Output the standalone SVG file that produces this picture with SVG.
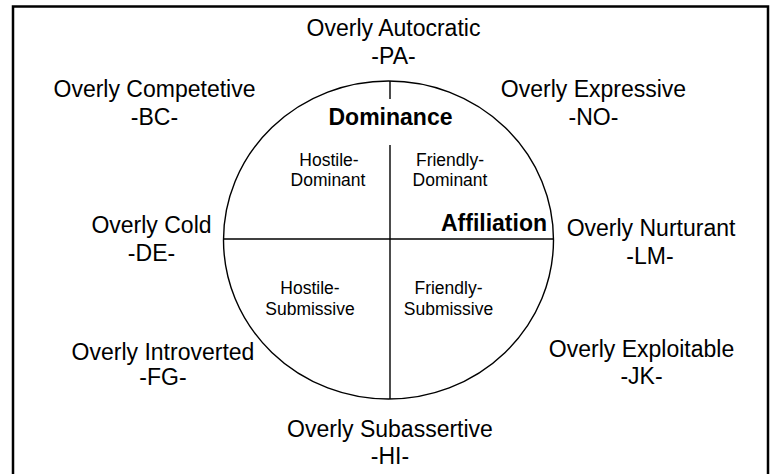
<svg xmlns="http://www.w3.org/2000/svg" width="770" height="474" viewBox="0 0 770 474">
<style>
text{font-family:"Liberation Sans",Arial,sans-serif;fill:#000;text-anchor:middle}
.o{font-size:23px}
.s{font-size:17.5px}
.b{font-size:23px;font-weight:bold}
.ln{stroke:#000;stroke-width:1.4;fill:none}
</style>
<rect x="0" y="0" width="770" height="474" fill="#fff"/>
<rect x="13" y="6.5" width="755" height="480" fill="none" stroke="#000" stroke-width="2.5"/>
<g id="connectors">
<ellipse class="ln" cx="388.5" cy="240" rx="165" ry="159"/>
<line class="ln" x1="390" y1="81" x2="390" y2="399"/>
<line class="ln" x1="223.5" y1="239" x2="553.5" y2="239"/>
</g>
<g id="dominance"><rect x="328" y="99" width="125" height="46" fill="#fff"/><text class="b" x="390.5" y="125">Dominance</text></g>
<g id="affiliation"><text class="b" x="494" y="231">Affiliation</text></g>
<g id="hd"><text class="s" x="329" y="166">Hostile-</text><text class="s" x="328" y="186">Dominant</text></g>
<g id="fd"><text class="s" x="450" y="166">Friendly-</text><text class="s" x="450" y="186">Dominant</text></g>
<g id="hs"><text class="s" x="310" y="294">Hostile-</text><text class="s" x="310" y="315">Submissive</text></g>
<g id="fs"><text class="s" x="448.5" y="294">Friendly-</text><text class="s" x="448.5" y="315">Submissive</text></g>
<g id="pa"><text class="o" x="393.5" y="36">Overly Autocratic</text><text class="o" x="393.5" y="64">-PA-</text></g>
<g id="bc"><text class="o" x="154.5" y="97">Overly Competetive</text><text class="o" x="154.5" y="125">-BC-</text></g>
<g id="no"><text class="o" x="593.5" y="97">Overly Expressive</text><text class="o" x="593.5" y="125">-NO-</text></g>
<g id="de"><text class="o" x="151.5" y="233">Overly Cold</text><text class="o" x="151.5" y="261">-DE-</text></g>
<g id="lm"><text class="o" x="651" y="236">Overly Nurturant</text><text class="o" x="650" y="264">-LM-</text></g>
<g id="fg"><text class="o" x="163" y="360">Overly Introverted</text><text class="o" x="163" y="385">-FG-</text></g>
<g id="jk"><text class="o" x="641.5" y="357">Overly Exploitable</text><text class="o" x="641.5" y="384">-JK-</text></g>
<g id="hi"><text class="o" x="390" y="437">Overly Subassertive</text><text class="o" x="390" y="464">-HI-</text></g>
</svg>
